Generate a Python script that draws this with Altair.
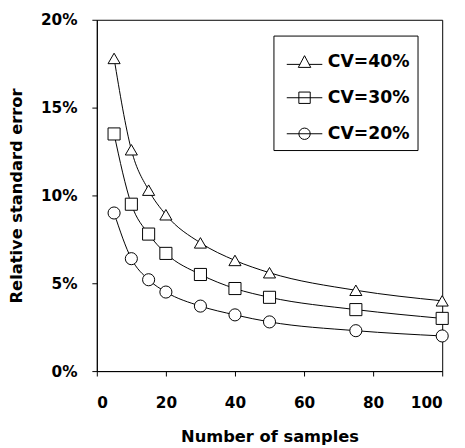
import altair as alt
import pandas as pd

samples = [5, 10, 15, 20, 30, 40, 50, 75, 100]
cv40 = [0.178, 0.126, 0.103, 0.089, 0.073, 0.063, 0.056, 0.046, 0.040]
cv30 = [0.135, 0.095, 0.078, 0.067, 0.055, 0.047, 0.042, 0.035, 0.030]
cv20 = [0.090, 0.064, 0.052, 0.045, 0.037, 0.032, 0.028, 0.023, 0.020]
series = ["CV=40%", "CV=30%", "CV=20%"]

rows = []
for name, vals in zip(series, [cv40, cv30, cv20]):
    for n, v in zip(samples, vals):
        rows.append({"n": n, "rse": v, "series": name, "legend": name})
df = pd.DataFrame(rows)

FONT = "DejaVu Sans"

x = alt.X("n:Q", scale=alt.Scale(domain=[0, 100], nice=False),
          axis=alt.Axis(title="Number of samples", values=[0, 20, 40, 60, 80, 100],
                        labelPadding=20, titlePadding=18))
y = alt.Y("rse:Q", scale=alt.Scale(domain=[0, 0.2], nice=False),
          axis=alt.Axis(title="Relative standard error", format=".0%",
                        values=[0, 0.05, 0.1, 0.15, 0.2], labelPadding=15, titlePadding=16))

lines = alt.Chart(df).mark_line(color="black", strokeWidth=1, interpolate="monotone").encode(
    x=x, y=y, detail="series:N")

points = alt.Chart(df).mark_point(filled=True, fill="white", stroke="black", strokeWidth=1,
                                  opacity=1, size=150).encode(
    x=x, y=y,
    shape=alt.Shape("series:N", scale=alt.Scale(domain=series,
                                                range=["triangle-up", "square", "circle"]),
                    legend=None))

legend_paths = [
    "M-1,0.15H-0.25M0.25,0.15H1M-0.35,0.32L0,-0.34L0.35,0.32Z",
    "M-1,0H1M-0.32,-0.32H0.32V0.32H-0.32Z",
    "M-1,0H1M0.32,0A0.32,0.32,0,1,1,-0.32,0A0.32,0.32,0,1,1,0.32,0Z",
]

legend_layer = alt.Chart(df).transform_filter("false").mark_point(
    filled=False, color="black", strokeWidth=1, opacity=1, size=1296).encode(
    x=x, y=y,
    shape=alt.Shape("legend:N", scale=alt.Scale(domain=series, range=legend_paths),
                    legend=alt.Legend(title=None, orient="none", legendX=179, legendY=16,
                                      strokeColor="black", fillColor="white",
                                      padding=8, symbolOffset=5, labelOffset=5,
                                      rowPadding=9.5, symbolSize=1296,
                                      symbolFillColor="transparent", symbolStrokeColor="black",
                                      symbolStrokeWidth=1, symbolOpacity=1,
                                      labelFont=FONT, labelFontSize=17.5,
                                      labelFontWeight="bold", labelColor="black")))

chart = alt.layer(lines, points, legend_layer).resolve_scale(shape="independent").properties(
    width=350, height=356,
    autosize=alt.AutoSizeParams(type="none"),
    padding={"left": 90, "top": 9, "right": 15, "bottom": 75},
).configure_view(stroke="black", strokeWidth=1).configure_axis(
    grid=False, domainColor="black", domainWidth=1, tickColor="black", tickSize=5,
    labelFont=FONT, labelFontSize=15.5, labelFontWeight="bold", labelColor="black",
    titleFont=FONT, titleFontSize=16.5, titleFontWeight="bold", titleColor="black",
)

chart.save("out.html", embed_options={"renderer": "svg", "actions": False})
